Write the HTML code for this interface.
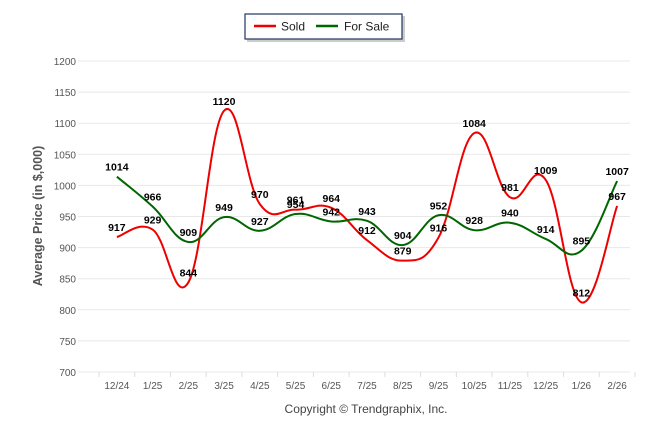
<!DOCTYPE html>
<html><head><meta charset="utf-8"><style>
body{margin:0;background:#fff;font-family:"Liberation Sans",sans-serif}
svg text{font-family:"Liberation Sans",sans-serif}
</style></head><body>
<svg id="c" width="646" height="434">
<g>
<rect x="247" y="16" width="158" height="26" fill="#999" opacity="0.5"/>
<rect x="245" y="14" width="157" height="25" fill="#fff" stroke="#1f3660" stroke-width="1.2"/>
<line x1="254" y1="26" x2="276" y2="26" stroke="#e00" stroke-width="2.5"/>
<text x="281" y="30.5" font-size="12" fill="#222">Sold</text>
<line x1="316" y1="26" x2="338" y2="26" stroke="#060" stroke-width="2.5"/>
<text x="344" y="30.5" font-size="12" fill="#222">For Sale</text>
</g>
<text transform="translate(42,216) rotate(-90)" text-anchor="middle" font-size="12.5" font-weight="bold" fill="#555">Average Price (in $,000)</text>
<text x="366" y="413" text-anchor="middle" font-size="12" fill="#444">Copyright © Trendgraphix, Inc.</text>
<g id="g"></g>
</svg>
<script>
const categories=["12/24","1/25","2/25","3/25","4/25","5/25","6/25","7/25","8/25","9/25","10/25","11/25","12/25","1/26","2/26"];
const sold=[917,929,844,1120,970,961,964,912,879,916,1084,981,1009,812,967];
const forSale=[1014,966,909,949,927,954,942,943,904,952,928,940,914,895,1007];
const yTicks=[700,750,800,850,900,950,1000,1050,1100,1150,1200];
const NS="http://www.w3.org/2000/svg",g=document.getElementById('g');
const L=99,W=536,bw=W/categories.length;
const x=i=>L+bw*(i+0.5), y=v=>372-(v-700)*(311/500);
function mk(t,a,txt){const e=document.createElementNS(NS,t);for(const k in a)e.setAttribute(k,a[k]);if(txt!=null)e.textContent=txt;g.appendChild(e);return e;}
yTicks.forEach(v=>{
 const l=mk('line',{x1:78,x2:630,y1:y(v),y2:y(v),stroke:'#e8e8e8'});
 
 
 const t=mk('text',{x:76,y:y(v)+4,'text-anchor':'end','font-size':10,fill:'#555'},v);
 
 
});
for(let i=0;i<=categories.length;i++){mk('line',{x1:L+bw*i,x2:L+bw*i,y1:372,y2:377,stroke:'#ddd'});}
categories.forEach((c,i)=>{
 const t=mk('text',{x:x(i),y:389,'text-anchor':'middle','font-size':10,fill:'#555'},c);
 
 
});
function path(d){
 const p=d.map((v,i)=>[x(i),y(v)]);let s='M'+p[0][0]+','+p[0][1];
 for(let i=0;i<p.length-1;i++){
  const p0=p[i-1]||p[i],p1=p[i],p2=p[i+1],p3=p[i+2]||p2,k=1/5;
  s+=' C'+(p1[0]+(p2[0]-p0[0])*k)+','+(p1[1]+(p2[1]-p0[1])*k)+' '+(p2[0]-(p3[0]-p1[0])*k)+','+(p2[1]-(p3[1]-p1[1])*k)+' '+p2[0]+','+p2[1];
 }return s;
}
const ps=mk('path',{d:path(sold),fill:'none',stroke:'#e00',"stroke-width":2});


const pf=mk('path',{d:path(forSale),fill:'none',stroke:'#060',"stroke-width":2});


[[sold,'sold'],[forSale,'for-sale']].forEach(([d,n])=>d.forEach((v,i)=>{
 const t=mk('text',{x:x(i),y:y(v)-6,'text-anchor':'middle','font-size':10.5,'font-weight':'bold',fill:'#000'},v);
 
 
}));
</script>
</body></html>
